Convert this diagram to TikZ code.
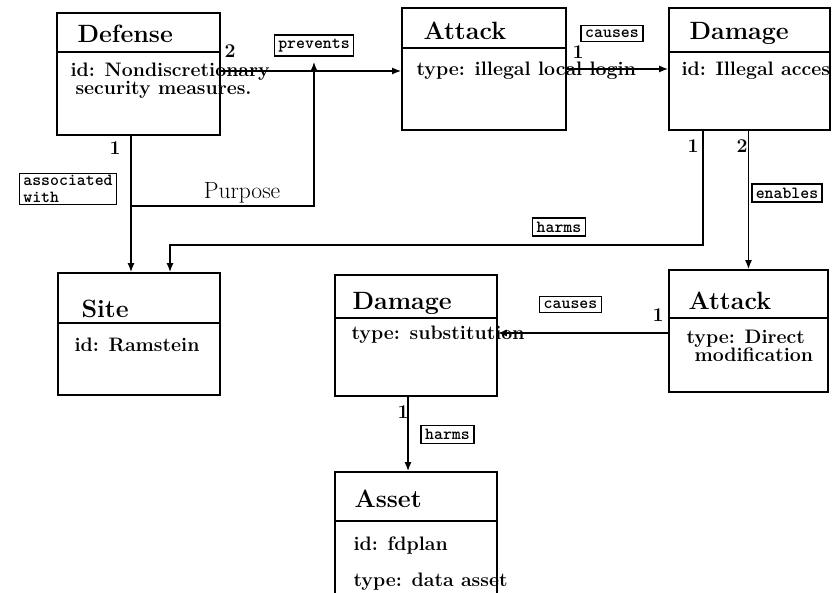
\documentclass[tikz,border=0pt]{standalone}
\usepackage{fontspec}
\usetikzlibrary{arrows.meta}

\begin{document}
\begin{tikzpicture}[x=1pt,y=-1pt,
  cls/.style={draw,line width=1.6pt,inner sep=0pt},
  seg/.style={line width=1.6pt},
  conn/.style={line width=1.6pt,-{Latex[length=9pt,width=7pt]}},
  ttl/.style={anchor=base west,font=\bfseries\fontsize{25}{28}\selectfont},
  attr/.style={anchor=base west,font=\bfseries\fontsize{19.5}{22}\selectfont},
  tag/.style={draw,line width=1.5pt,inner xsep=4pt,inner ysep=4pt,font=\ttfamily\bfseries\fontsize{17}{17}\selectfont},
  mult/.style={font=\bfseries\fontsize{19.5}{22}\selectfont}]
\useasboundingbox (0,0) rectangle (832,593);
%classes: box, title, attributes
\node [cls,minimum width=163pt,minimum height=122pt] (def) at (138.5,74) {};
\draw [seg] (def.west |- 0,52) -- (def.east |- 0,52);
\node [ttl] (deft) at (74,43) {Defense};
\node [attr] (defa) at (67,77) {id: Nondiscretionary};
\node [attr] (defb) at (72,95) {security measures.};

\node [cls,minimum width=164pt,minimum height=122pt] (atk) at (484,69) {};
\draw [seg] (atk.west |- 0,48) -- (atk.east |- 0,48);
\node [ttl] (atkt) at (420,40) {Attack};
\node [attr] (atka) at (413,76) {type: illegal local login};

\node [cls,minimum width=161pt,minimum height=122pt] (dmg) at (749.5,69) {};
\draw [seg] (dmg.west |- 0,52) -- (dmg.east |- 0,52);
\node [ttl] (dmgt) at (686,40) {Damage};
\node [attr] (dmga) at (678,76) {id: Illegal acces};

\node [cls,minimum width=162pt,minimum height=122pt] (site) at (139,334) {};
\draw [seg] (site.west |- 0,323) -- (site.east |- 0,323);
\node [ttl] (sitet) at (78,318) {Site};
\node [attr] (sitea) at (71,352) {id: Ramstein};

\node [cls,minimum width=162pt,minimum height=121pt] (dmg2) at (416,335.5) {};
\draw [seg] (dmg2.west |- 0,318) -- (dmg2.east |- 0,318);
\node [ttl] (dmg2t) at (349,310) {Damage};
\node [attr] (dmg2a) at (348,339) {type: substitution};

\node [cls,minimum width=159pt,minimum height=122pt] (atk2) at (748.5,331) {};
\draw [seg] (atk2.west |- 0,318) -- (atk2.east |- 0,318);
\node [ttl] (atk2t) at (685,310) {Attack};
\node [attr] (atk2a) at (683,343) {type: Direct};
\node [attr] (atk2b) at (691,361) {modification};

\node [cls,minimum width=162pt,minimum height=128pt] (asset) at (416,536) {};
\draw [seg] (asset.west |- 0,521) -- (asset.east |- 0,521);
\node [ttl] (assett) at (351,507) {Asset};
\node [attr] (asseta) at (350,550) {id: fdplan};
\node [attr] (assetb) at (350,586) {type: data asset};

%relation labels
\node [tag] (prev) at (314,45.5) {prevents};
\node [tag] (caus) at (612,33.5) {causes};
\node [tag,align=left,inner ysep=2pt] (assoc) at (68,189) {associated\\with};
\node [tag] (harm) at (559,227) {harms};
\node [tag] (enab) at (787,193) {enables};
\node [tag] (caus2) at (570.5,304.5) {causes};
\node [tag] (harm2) at (447.5,434.5) {harms};
\node [font=\fontsize{23.5}{26}\selectfont] (purp) at (242,193) {Purpose};

\node [mult] (m1) at (230,51) {2};
\node [mult] (m2) at (115,148) {1};
\node [mult] (m3) at (578,52) {1};
\node [mult] (m4) at (693,146) {1};
\node [mult] (m5) at (742,146) {2};
\node [mult] (m6) at (658,315) {1};
\node [mult] (m7) at (403,412) {1};

\coordinate (dj) at (131,206);
\coordinate (hj) at (170,245);
\draw [conn] (def.east |- 0,71) -- (atk.west |- 0,71);
\draw [conn] (atk.east) -- (dmg.west);
\draw [conn] (def.south -| dj) -- (site.north -| dj);
\draw [conn] (dj) -| ([yshift=-5pt]prev.south);
\draw [conn] ([xshift=-46.5pt]dmg.south) |- (hj) -- (site.north -| hj);
\draw [conn] (dmg.south -| atk2.north) -- (atk2.north);
\draw [conn] (atk2.west |- 0,333) -- (dmg2.east |- 0,333);
\draw [conn] ([xshift=-8pt]dmg2.south) -- ([xshift=-8pt]asset.north);
\end{tikzpicture}
\end{document}
